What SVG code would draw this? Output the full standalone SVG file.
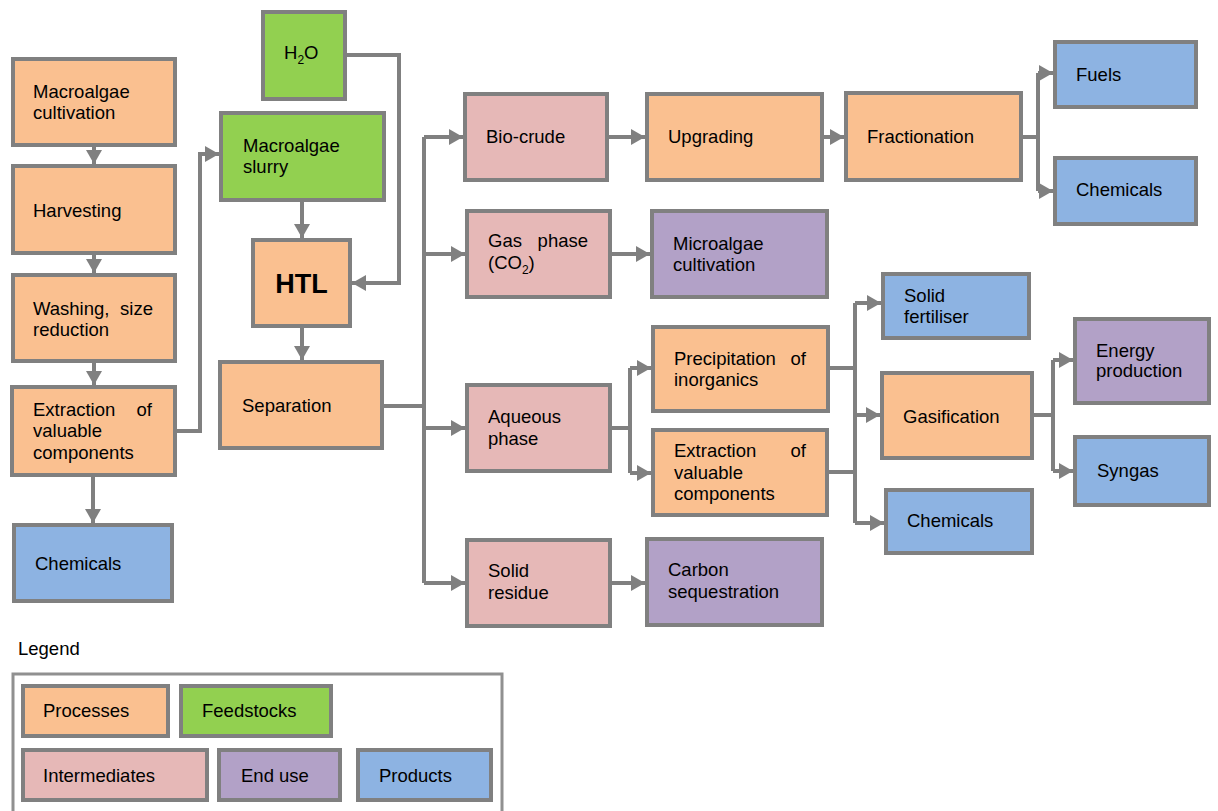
<svg xmlns="http://www.w3.org/2000/svg" width="1218" height="811" viewBox="0 0 1218 811">
<style>
rect{stroke:#808080;stroke-width:4}
.p{fill:#FAC090}.f{fill:#92D050}.i{fill:#E6B8B7}.e{fill:#B2A1C7}.d{fill:#8DB3E2}
text{font-family:"Liberation Sans",Arial,sans-serif;font-size:18.5px;fill:#000}
.c path{fill:none;stroke:#808080;stroke-width:4}
.a{marker-end:url(#ah)}
</style>
<defs>
<marker id="ah" viewBox="0 0 14 16" markerWidth="14" markerHeight="16" markerUnits="userSpaceOnUse" refX="14" refY="8" orient="auto">
<path d="M0,0 L14,8 L0,16 z" fill="#808080"/>
</marker>
</defs>
<rect width="1218" height="811" fill="#fff" style="stroke:none"/>
<g class="c" id="connectors">
<path class="a" d="M94,147 V164"/>
<path class="a" d="M94,255 V273"/>
<path class="a" d="M94,363 V385"/>
<path class="a" d="M93,476 V523"/>
<path class="a" d="M177,431 H200 V154 H219"/>
<path class="a" d="M347,55 H399 V283 H352"/>
<path class="a" d="M302,202 V238"/>
<path class="a" d="M302,328 V360"/>
<path d="M384,406 H424"/>
<path d="M424,137 V583"/>
<path class="a" d="M424,137 H463"/>
<path class="a" d="M424,254 H465"/>
<path class="a" d="M424,428 H465"/>
<path class="a" d="M424,583 H465"/>
<path class="a" d="M609,137 H645"/>
<path class="a" d="M824,137 H844"/>
<path d="M1023,137 H1038 M1038,73 V191"/>
<path class="a" d="M1038,73 H1053"/>
<path class="a" d="M1038,191 H1053"/>
<path class="a" d="M612,254 H650"/>
<path d="M612,428 H630 M630,368 V473"/>
<path class="a" d="M630,368 H651"/>
<path class="a" d="M630,473 H651"/>
<path class="a" d="M608,583 H645"/>
<path d="M830,368 H855 M829,472 H855 M855,303 V523"/>
<path class="a" d="M855,303 H881"/>
<path class="a" d="M855,415 H880"/>
<path class="a" d="M855,523 H884"/>
<path d="M1034,415 H1053 M1053,360 V471"/>
<path class="a" d="M1053,360 H1073"/>
<path class="a" d="M1053,471 H1073"/>
</g>
<g id="n-cultivation"><rect class="p" x="13" y="59" width="162" height="86"/><text x="33" y="98">Macroalgae</text><text x="33" y="119">cultivation</text></g>
<g id="n-harvesting"><rect class="p" x="13" y="166" width="162" height="87"/><text x="33" y="217">Harvesting</text></g>
<g id="n-washing"><rect class="p" x="13" y="275" width="162" height="86"/><text x="33" y="315">Washing,</text><text x="153" y="315" text-anchor="end">size</text><text x="33" y="336">reduction</text></g>
<g id="n-extraction1"><rect class="p" x="12" y="387" width="163" height="88"/><text x="33" y="416">Extraction</text><text x="152" y="416" text-anchor="end">of</text><text x="33" y="437">valuable</text><text x="33" y="459">components</text></g>
<g id="n-chemicals1"><rect class="d" x="14" y="525" width="158" height="76"/><text x="35" y="570">Chemicals</text></g>
<g id="n-h2o"><rect class="f" x="263" y="12" width="82" height="87"/><text x="284" y="59">H<tspan dy="5" font-size="12">2</tspan><tspan dy="-5">O</tspan></text></g>
<g id="n-slurry"><rect class="f" x="221" y="113" width="163" height="87"/><text x="243" y="152">Macroalgae</text><text x="243" y="173">slurry</text></g>
<g id="n-htl"><rect class="p" x="253" y="240" width="97" height="86"/><text x="301.5" y="293" text-anchor="middle" font-weight="bold" style="font-size:27px">HTL</text></g>
<g id="n-separation"><rect class="p" x="220" y="362" width="162" height="86"/><text x="242" y="412">Separation</text></g>
<g id="n-biocrude"><rect class="i" x="465" y="94" width="142" height="86"/><text x="486" y="143">Bio-crude</text></g>
<g id="n-upgrading"><rect class="p" x="647" y="94" width="175" height="86"/><text x="668" y="143">Upgrading</text></g>
<g id="n-fractionation"><rect class="p" x="846" y="93" width="175" height="87"/><text x="867" y="143">Fractionation</text></g>
<g id="n-fuels"><rect class="d" x="1055" y="42" width="141" height="65"/><text x="1076" y="81">Fuels</text></g>
<g id="n-chemicals2"><rect class="d" x="1055" y="158" width="141" height="66"/><text x="1076" y="196">Chemicals</text></g>
<g id="n-gas"><rect class="i" x="467" y="211" width="143" height="86"/><text x="488" y="247">Gas</text><text x="588" y="247" text-anchor="end">phase</text><text x="488" y="269">(CO<tspan dy="5" font-size="12">2</tspan><tspan dy="-5">)</tspan></text></g>
<g id="n-microalgae"><rect class="e" x="652" y="211" width="175" height="86"/><text x="673" y="250">Microalgae</text><text x="673" y="271">cultivation</text></g>
<g id="n-aqueous"><rect class="i" x="467" y="385" width="143" height="86"/><text x="488" y="423">Aqueous</text><text x="488" y="445">phase</text></g>
<g id="n-precipitation"><rect class="p" x="653" y="327" width="175" height="84"/><text x="674" y="365">Precipitation</text><text x="806" y="365" text-anchor="end">of</text><text x="674" y="386">inorganics</text></g>
<g id="n-extraction2"><rect class="p" x="653" y="430" width="174" height="85"/><text x="674" y="457">Extraction</text><text x="806" y="457" text-anchor="end">of</text><text x="674" y="479">valuable</text><text x="674" y="500">components</text></g>
<g id="n-solid"><rect class="i" x="467" y="540" width="143" height="86"/><text x="488" y="577">Solid</text><text x="488" y="599">residue</text></g>
<g id="n-carbon"><rect class="e" x="647" y="539" width="175" height="86"/><text x="668" y="576">Carbon</text><text x="668" y="598">sequestration</text></g>
<g id="n-fertiliser"><rect class="d" x="883" y="274" width="146" height="64"/><text x="904" y="302">Solid</text><text x="904" y="323">fertiliser</text></g>
<g id="n-gasification"><rect class="p" x="882" y="373" width="150" height="85"/><text x="903" y="423">Gasification</text></g>
<g id="n-chemicals3"><rect class="d" x="886" y="490" width="146" height="63"/><text x="907" y="527">Chemicals</text></g>
<g id="n-energy"><rect class="e" x="1075" y="319" width="134" height="84"/><text x="1096" y="357">Energy</text><text x="1096" y="377">production</text></g>
<g id="n-syngas"><rect class="d" x="1075" y="437" width="134" height="68"/><text x="1097" y="477">Syngas</text></g>
<g id="legend">
<text x="18" y="655">Legend</text>
<rect x="13" y="674" width="489" height="160" fill="none" style="stroke:#909090;stroke-width:3"/>
<rect class="p" x="23" y="686" width="145" height="50"/><text x="43" y="717">Processes</text>
<rect class="f" x="181" y="686" width="150" height="50"/><text x="202" y="717">Feedstocks</text>
<rect class="i" x="23" y="750" width="184" height="50"/><text x="43" y="782">Intermediates</text>
<rect class="e" x="219" y="750" width="121" height="50"/><text x="241" y="782">End use</text>
<rect class="d" x="358" y="750" width="133" height="50"/><text x="379" y="782">Products</text>
</g>
</svg>
